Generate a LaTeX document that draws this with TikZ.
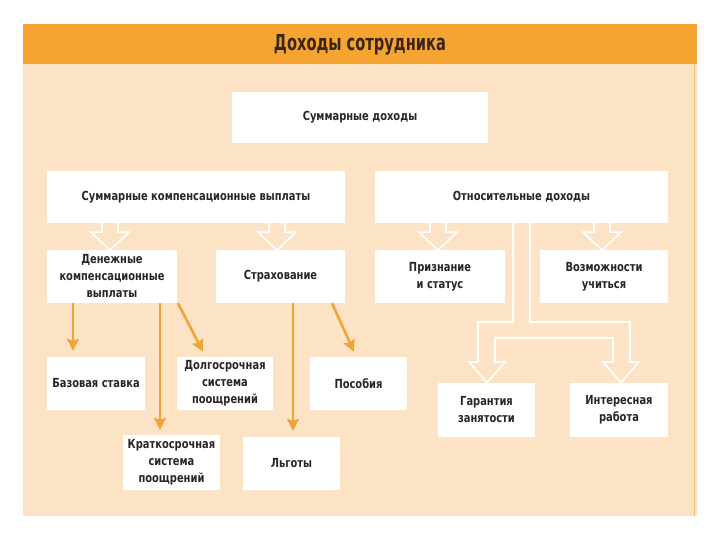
\documentclass[tikz,border=0pt]{standalone}
\usepackage{fontspec}
\setmainfont{DejaVu Sans Condensed}
\usetikzlibrary{arrows.meta,calc}
\definecolor{hdr}{HTML}{F5A432}
\definecolor{peach}{HTML}{FCE3C5}
\definecolor{oarr}{HTML}{EFA535}
\definecolor{txt}{HTML}{2A2626}
\definecolor{ttl}{HTML}{3A2616}
\begin{document}
\begin{tikzpicture}[x=1pt,y=-1pt,
  box/.style={fill=white,draw=none,inner sep=0pt,align=center,text=txt,
    font=\fontsize{12.5}{17}\bfseries\addfontfeature{FakeStretch=0.88}},
  oarrow/.style={draw=oarr,line width=2.6pt,-{Stealth[length=12pt,width=12pt,inset=2pt]}},
  hollow/.style={draw=white,line width=1.6pt,fill=peach,line join=miter}]
\useasboundingbox (0,0) rectangle (720,540);
\fill[white] (0,0) rectangle (720,540);
\fill[peach] (23,24) rectangle (697,516);
\draw[hdr!70,line width=1pt] (694,64) -- (694,516);
\fill[hdr] (23,24) rectangle (697,64);
\node[text=ttl,font=\fontsize{22}{24}\bfseries\addfontfeature{FakeStretch=0.74}] (title) at (360,45) {Доходы сотрудника};
% boxes
\node[box,minimum width=256pt,minimum height=51pt] (sum) at (360,117.5) {Суммарные доходы};
\node[box,minimum width=298pt,minimum height=52pt] (komp) at (196,197) {Суммарные компенсационные выплаты};
\node[box,minimum width=293pt,minimum height=52pt] (otn) at (521.5,197) {Относительные доходы};
\node[box,minimum width=130pt,minimum height=53pt] (den) at (112,276.5) {Денежные\\компенсационные\\выплаты};
\node[box,minimum width=129pt,minimum height=53pt] (strah) at (280.5,276.5) {Страхование};
\node[box,minimum width=130pt,minimum height=53pt] (priz) at (440,276.5) {Признание\\и статус};
\node[box,minimum width=128pt,minimum height=53pt] (voz) at (604,276.5) {Возможности\\учиться};
\node[box,minimum width=98pt,minimum height=53pt] (baz) at (96,383.5) {Базовая ставка};
\node[box,minimum width=96pt,minimum height=53pt] (dolg) at (225,383.5) {Долгосрочная\\система\\поощрений};
\node[box,minimum width=97pt,minimum height=53pt] (pos) at (358.5,383.5) {Пособия};
\node[box,minimum width=97pt,minimum height=55pt] (krat) at (171.5,462.5) {Краткосрочная\\система\\поощрений};
\node[box,minimum width=97pt,minimum height=53pt] (lgot) at (291.5,463.5) {Льготы};
\node[box,minimum width=97pt,minimum height=54pt] (gar) at (486.5,410) {Гарантия\\занятости};
\node[box,minimum width=98pt,minimum height=54pt] (int) at (619,410) {Интересная\\работа};
% hollow arrows
\foreach \src/\x in {komp/110,komp/277,otn/438,otn/602}{
  \draw[hollow] ($(\src.south -| \x,0)+(-8,0)$) -- ++(0,9) -- ++(-11,0) -- ++(19,18) -- ++(19,-18) -- ++(-11,0) -- ++(0,-9);
}
% hollow branching pipe
\draw[hollow] (otn.south -| 513,0) -- (513,322) -- (478,322) -- (478,362) -- (469,362)
  -- (gar.north -| 487,0) -- (505,362) -- (495,362) -- (495,338) -- (613,338) -- (613,362)
  -- (603,362) -- (int.north -| 621,0) -- (639,362) -- (630,362) -- (630,322) -- (530,322) -- (otn.south -| 530,0);
% orange arrows
\draw[oarrow] (den.south -| 73,0) -- ($(baz.north -| 73,0)+(0,-6)$);
\draw[oarrow] (den.south -| 160,0) -- ($(krat.north -| 160,0)+(0,-5)$);
\draw[oarrow] (den.south -| 178,0) -- ($(dolg.north -| 203,0)+(0,-5)$);
\draw[oarrow] (strah.south -| 293,0) -- ($(lgot.north -| 293,0)+(0,-6)$);
\draw[oarrow] (strah.south -| 332,0) -- ($(pos.north -| 354,0)+(0,-5)$);
\end{tikzpicture}
\end{document}
